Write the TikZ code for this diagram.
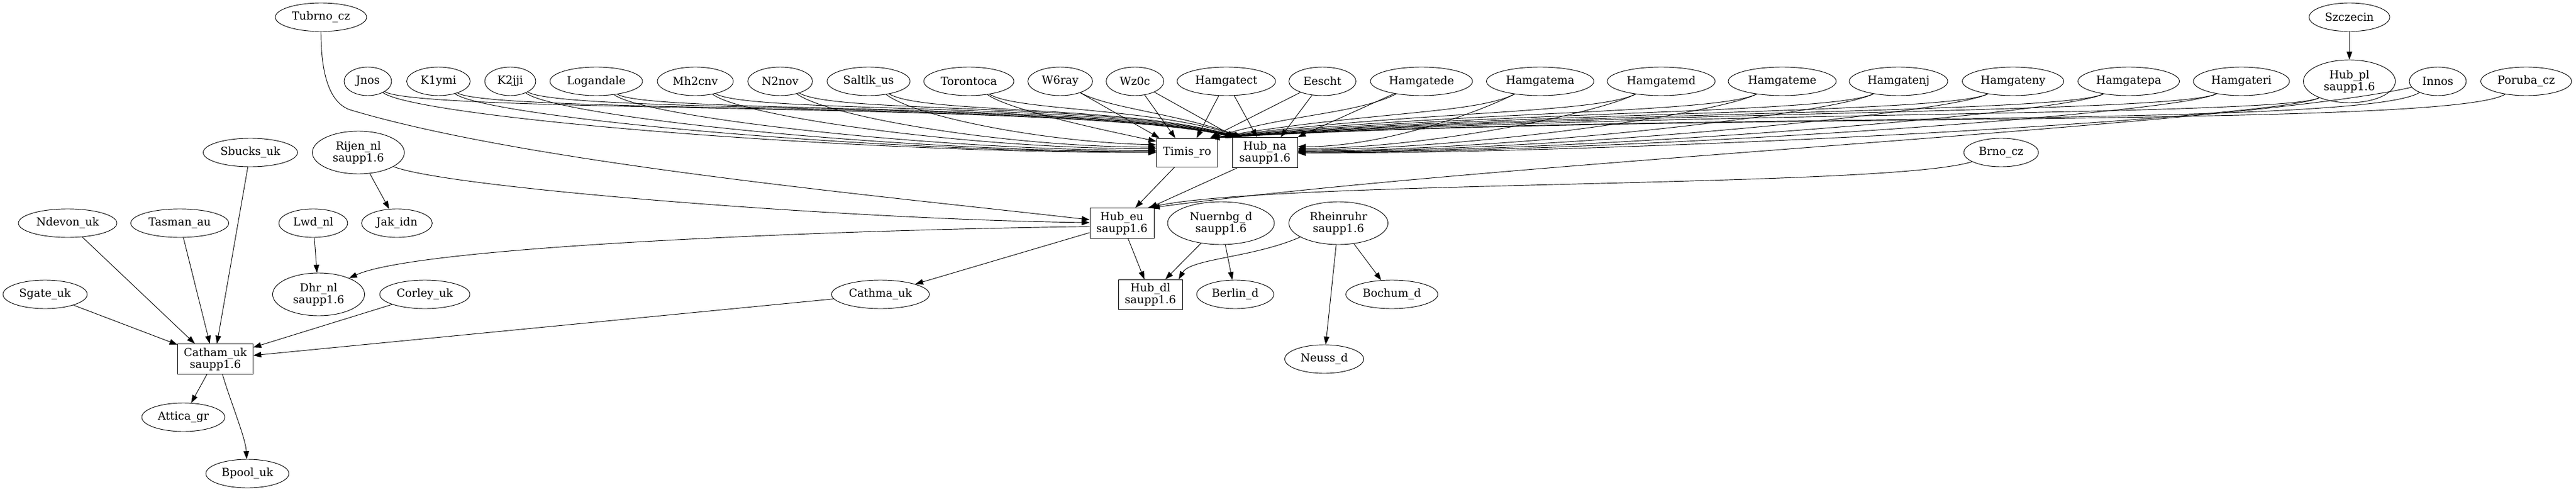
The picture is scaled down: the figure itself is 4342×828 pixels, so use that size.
\documentclass[tikz,border=0pt]{standalone}
\usepackage{fontspec}
\setmainfont{DejaVu Serif}
\usetikzlibrary{shapes.geometric,arrows.meta}
\begin{document}
\begin{tikzpicture}[x=0.75pt,y=-0.75pt,
  every node/.style={font=\fontsize{14}{15}\selectfont, inner sep=0pt},
  el/.style={ellipse, draw, line width=0.7pt, minimum height=36pt, minimum width=#1*0.75pt},
  el2/.style={ellipse, draw, line width=0.7pt, align=center, minimum height=54pt, minimum width=#1*0.75pt},
  bx/.style 2 args={rectangle, draw, line width=0.7pt, align=center, minimum width=#1*0.75pt, minimum height=#2*0.75pt},
  ln/.style={draw, line width=0.7pt},
  e/.style={ln, -{Triangle[length=10pt,width=7pt]}}]
\useasboundingbox (0,0) rectangle (4342,828);

% ---- nodes ----
\node[el=154] (Tubrnocz) at (541,29) {Tubrno\_cz};
\node[el=136] (Szczecin) at (3960,29) {Szczecin};
\node[el=80] (Jnos) at (620,137) {Jnos};
\node[el=107] (K1ymi) at (739,137) {K1ymi};
\node[el=86] (K2jji) at (860,137) {K2jji};
\node[el=156] (Logandale) at (1005,137) {Logandale};
\node[el=128] (Mh2cnv) at (1172,137) {Mh2cnv};
\node[el=109] (N2nov) at (1315,137) {N2nov};
\node[el=140] (Saltlkus) at (1464,137) {Saltlk\_us};
\node[el=152] (Torontoca) at (1633,137) {Torontoca};
\node[el=109] (W6ray) at (1787,137) {W6ray};
\node[el=97] (Wz0c) at (1913,137) {Wz0c};
\node[el=166] (Hamgatect) at (2067,137) {Hamgatect};
\node[el=113] (Eescht) at (2229,137) {Eescht};
\node[el=172] (Hamgatede) at (2396,137) {Hamgatede};
\node[el=181] (Hamgatema) at (2596,137) {Hamgatema};
\node[el=182] (Hamgatemd) at (2800,137) {Hamgatemd};
\node[el=182] (Hamgateme) at (3004,137) {Hamgateme};
\node[el=166] (Hamgatenj) at (3200,137) {Hamgatenj};
\node[el=171] (Hamgateny) at (3393,137) {Hamgateny};
\node[el=171] (Hamgatepa) at (3588,137) {Hamgatepa};
\node[el=162] (Hamgateri) at (3778,137) {Hamgateri};
\node[el2=155] (Hubpl) at (3960,137) {Hub\_pl\\saupp1.6};
\node[el=96] (Innos) at (4109,137) {Innos};
\node[el=153] (Porubacz) at (4258,137) {Poruba\_cz};

\node[el=159] (Sbucksuk) at (422,257) {Sbucks\_uk};
\node[el2=155] (Rijennl) at (604,257) {Rijen\_nl\\saupp1.6};
\node[bx={103}{48}] (Timisro) at (2001,257) {Timis\_ro};
\node[bx={110}{51}] (Hubna) at (2132,257) {Hub\_na\\saupp1.6};
\node[el=126] (Brnocz) at (3373,257) {Brno\_cz};

\node[el=166] (Ndevonuk) at (114,376) {Ndevon\_uk};
\node[el=165] (Tasmanau) at (303,376) {Tasman\_au};
\node[el=116] (Lwdnl) at (528,376) {Lwd\_nl};
\node[el=119] (Jakidn) at (669,376) {Jak\_idn};
\node[bx={108}{51}] (Hubeu) at (1891,376) {Hub\_eu\\saupp1.6};
\node[el2=180] (Nuernbgd) at (2058,376) {Nuernbg\_d\\saupp1.6};
\node[el2=167] (Rheinruhr) at (2256,376) {Rheinruhr\\saupp1.6};

\node[el=142] (Sgateuk) at (76,496) {Sgate\_uk};
\node[el2=155] (Dhrnl) at (537,496) {Dhr\_nl\\saupp1.6};
\node[el=152] (Corleyuk) at (716,496) {Corley\_uk};
\node[el=165] (Cathmauk) at (1484,496) {Cathma\_uk};
\node[bx={108}{50}] (Hubdl) at (1939,496) {Hub\_dl\\saupp1.6};
\node[el=130] (Berlind) at (2082,496) {Berlin\_d};
\node[el=155] (Bochumd) at (2346,496) {Bochum\_d};

\node[bx={127}{51}] (Cathamuk) at (363,605) {Catham\_uk\\saupp1.6};
\node[el=133] (Neussd) at (2232,605) {Neuss\_d};
\node[el=140] (Atticagr) at (309,703) {Attica\_gr};
\node[el=140] (Bpooluk) at (417,798) {Bpool\_uk};

% ---- left group -> Timis_ro ----
\draw[e] (Jnos) .. controls +(80,60) and +(-540,0) .. (Timisro.180);
\draw[e] (K1ymi) .. controls +(80,60) and +(-490,0) .. (Timisro.179);
\draw[e] (K2jji) .. controls +(80,60) and +(-440,0) .. (Timisro.178);
\draw[e] (Logandale) .. controls +(80,60) and +(-380,0) .. (Timisro.176);
\draw[e] (Mh2cnv) .. controls +(80,60) and +(-310,0) .. (Timisro.173);
\draw[e] (N2nov) .. controls +(80,60) and +(-250,0) .. (Timisro.170);
\draw[e] (Saltlkus) .. controls +(80,60) and +(-190,-5) .. (Timisro.166);
\draw[e] (Torontoca) .. controls +(70,50) and +(-70,-15) .. (Timisro.160);
% ---- left group -> Hub_na ----
\draw[e] (Jnos) .. controls +(90,55) and +(-260,-60) .. (Hubna.154);
\draw[e] (K1ymi) .. controls +(90,55) and +(-260,-60) .. (Hubna.153);
\draw[e] (K2jji) .. controls +(90,55) and +(-250,-60) .. (Hubna.152);
\draw[e] (Logandale) .. controls +(90,55) and +(-250,-60) .. (Hubna.151);
\draw[e] (Mh2cnv) .. controls +(90,55) and +(-240,-60) .. (Hubna.150);
\draw[e] (N2nov) .. controls +(90,55) and +(-230,-60) .. (Hubna.149);
\draw[e] (Saltlkus) .. controls +(90,55) and +(-200,-55) .. (Hubna.148);
\draw[e] (Torontoca) .. controls +(80,50) and +(-150,-50) .. (Hubna.147);
\draw[e] (W6ray) -- ([xshift=4pt]Timisro.north west);
\draw[e] (W6ray) .. controls +(80,45) and +(-110,-40) .. (Hubna.146);
\draw[e] (Wz0c) -- ([xshift=-15pt]Timisro.north);
\draw[e] (Wz0c) -- ([xshift=4pt]Hubna.north west);
\draw[e] (Hamgatect) -- ([xshift=12pt]Timisro.north);
\draw[e] (Hamgatect) -- ([xshift=-10pt]Hubna.north);
\draw[e] (Eescht) -- ([xshift=-10pt]Timisro.north east);
\draw[e] (Eescht) -- ([xshift=20pt]Hubna.north);
\draw[e] (Hamgatede) -- (Hubna.north east);
\draw[e] (Hamgatede) .. controls +(-110,55) and +(130,-40) .. ([xshift=-8pt]Timisro.north east);
% ---- right group -> Timis_ro ----
\draw[e] (Hamgatema) .. controls +(-110,55) and +(267,-45) .. ([xshift=-8pt]Timisro.north east);
\draw[e] (Hamgatemd) .. controls +(-110,55) and +(328,-45) .. ([xshift=-8pt]Timisro.north east);
\draw[e] (Hamgateme) .. controls +(-110,55) and +(389,-45) .. ([xshift=-8pt]Timisro.north east);
\draw[e] (Hamgatenj) .. controls +(-110,55) and +(448,-45) .. ([xshift=-8pt]Timisro.north east);
\draw[e] (Hamgateny) .. controls +(-110,55) and +(506,-45) .. ([xshift=-8pt]Timisro.north east);
\draw[e] (Hamgatepa) .. controls +(-110,55) and +(564,-45) .. ([xshift=-8pt]Timisro.north east);
\draw[e] (Hamgateri) .. controls +(-110,55) and +(621,-45) .. ([xshift=-8pt]Timisro.north east);
\draw[e] (Hubpl) .. controls +(-110,60) and +(676,-45) .. ([xshift=-8pt]Timisro.north east);
\draw[e] (Innos) .. controls +(-130,80) and +(720,-45) .. ([xshift=-8pt]Timisro.north east);
\draw[e] (Porubacz) .. controls +(-130,80) and +(765,-45) .. ([xshift=-8pt]Timisro.north east);
% ---- right group -> Hub_na ----
\draw[e] (Hamgatema) .. controls +(-110,55) and +(143,0) .. (Hubna.10);
\draw[e] (Hamgatemd) .. controls +(-110,55) and +(215,0) .. (Hubna.7);
\draw[e] (Hamgateme) .. controls +(-110,55) and +(286,0) .. (Hubna.5);
\draw[e] (Hamgatenj) .. controls +(-110,55) and +(354,0) .. (Hubna.3);
\draw[e] (Hamgateny) .. controls +(-110,55) and +(422,0) .. (Hubna.2);
\draw[e] (Hamgatepa) .. controls +(-110,55) and +(490,0) .. (Hubna.1);
\draw[e] (Hamgateri) .. controls +(-110,55) and +(556,0) .. (Hubna.0);
\draw[e] (Hubpl) .. controls +(-110,60) and +(620,0) .. (Hubna.-1);
\draw[e] (Szczecin) -- (Hubpl);
% ---- into Hub_eu ----
\draw[e] (Timisro.south -| 1980,0) -- ([xshift=17pt]Hubeu.north);
\draw[e] ([xshift=-35pt]Hubna.south) -- ([xshift=-6pt]Hubeu.north east);
\draw[e] (Innos) .. controls +(-330,75) and +(600,-80) .. ([xshift=-3pt]Hubeu.north east);
\draw[e] (Brnocz) .. controls +(-190,60) and +(215,-47) .. ([xshift=-8pt]Hubeu.north east);
\draw[ln] (Tubrnocz) .. controls +(0,95) and +(-35,-12) .. (590,185) coordinate (tb);
\draw[e] (tb) .. controls +(300,90) and +(-350,-40) .. (Hubeu.174);
\draw[e] (Rijennl) .. controls +(150,60) and +(-400,-5) .. (Hubeu.179);
% ---- out of Hub_eu ----
\draw[e] (Hubeu.186) .. controls +(-400,5) and +(120,-55) .. (Dhrnl.28);
\draw[e] (Hubeu) -- (Cathmauk);
\draw[e] (Hubeu) -- (Hubdl);
% ---- lower right ----
\draw[e] (Nuernbgd) -- (Hubdl);
\draw[e] (Nuernbgd) -- (Berlind);
\draw[e] (Rheinruhr.200) .. controls +(-80,35) and +(20,-35) .. ([xshift=-5pt]Hubdl.north east);
\draw[e] (Rheinruhr) -- (Neussd);
\draw[e] (Rheinruhr) -- (Bochumd);
% ---- lower left ----
\draw[e] (Rijennl) -- (Jakidn);
\draw[e] (Lwdnl) -- (Dhrnl);
\draw[e] (Ndevonuk) -- ([xshift=-26pt]Cathamuk.north);
\draw[e] (Tasmanau) -- ([xshift=-7pt]Cathamuk.north);
\draw[e] (Sbucksuk) -- ([xshift=2pt]Cathamuk.north);
\draw[e] (Sgateuk) -- (Cathamuk);
\draw[e] (Corleyuk) -- (Cathamuk);
\draw[e] (Cathmauk) -- (Cathamuk);
\draw[e] (Cathamuk) -- (Atticagr);
\draw[e] ([xshift=9pt]Cathamuk.south) .. controls +(15,50) and +(-3,-60) .. (Bpooluk);
\end{tikzpicture}
\end{document}
